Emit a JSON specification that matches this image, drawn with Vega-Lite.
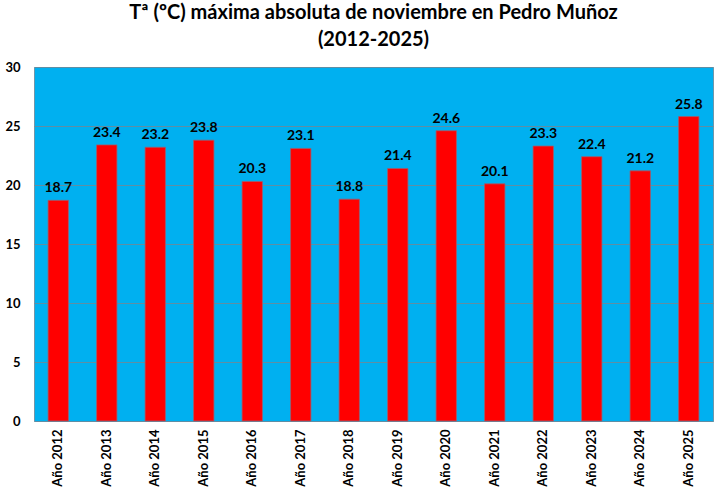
{
  "$schema": "https://vega.github.io/schema/vega-lite/v6.json",
  "autosize": {"type": "none"},
  "padding": {"left": 34, "top": 67, "right": 12, "bottom": 73},
  "width": 679,
  "height": 354,
  "background": "white",
  "title": {
    "text": ["Tª (ºC) máxima absoluta de noviembre en Pedro Muñoz", "(2012-2025)"],
    "font": "Lato",
    "fontSize": 20,
    "fontWeight": "bold",
    "lineHeight": 27,
    "offset": 11,
    "anchor": "middle",
    "color": "black"
  },
  "config": {
    "view": {"fill": "#00B0F0", "stroke": "#6f96aa", "strokeWidth": 1},
    "font": "Lato"
  },
  "data": {
    "values": [
      {"year": "Año 2012", "t": 18.7},
      {"year": "Año 2013", "t": 23.4},
      {"year": "Año 2014", "t": 23.2},
      {"year": "Año 2015", "t": 23.8},
      {"year": "Año 2016", "t": 20.3},
      {"year": "Año 2017", "t": 23.1},
      {"year": "Año 2018", "t": 18.8},
      {"year": "Año 2019", "t": 21.4},
      {"year": "Año 2020", "t": 24.6},
      {"year": "Año 2021", "t": 20.1},
      {"year": "Año 2022", "t": 23.3},
      {"year": "Año 2023", "t": 22.4},
      {"year": "Año 2024", "t": 21.2},
      {"year": "Año 2025", "t": 25.8}
    ]
  },
  "encoding": {
    "x": {
      "field": "year",
      "type": "nominal",
      "sort": null,
      "scale": {"paddingInner": 0.58, "paddingOuter": 0.29},
      "axis": {
        "title": null,
        "labelAngle": -90,
        "labelFont": "Lato",
        "labelFontSize": 13,
        "labelFontWeight": "bold",
        "labelColor": "black",
        "labelPadding": 8,
        "ticks": false,
        "domain": false
      }
    },
    "y": {
      "field": "t",
      "type": "quantitative",
      "scale": {"domain": [0, 30]},
      "axis": {
        "title": null,
        "values": [0, 5, 10, 15, 20, 25, 30],
        "labelFont": "Lato",
        "labelFontSize": 13,
        "labelFontWeight": "bold",
        "labelColor": "black",
        "labelPadding": 14,
        "ticks": false,
        "domain": false,
        "gridColor": "#5f8ea4",
        "gridWidth": 1
      }
    }
  },
  "layer": [
    {
      "mark": {"type": "bar", "color": "#FF0000", "stroke": "#9a6070", "strokeWidth": 0.8}
    },
    {
      "mark": {"type": "text", "dy": -12, "font": "Lato", "fontSize": 14, "fontWeight": "bold", "color": "black"},
      "encoding": {"text": {"field": "t", "type": "quantitative", "format": ".1f"}}
    }
  ]
}
